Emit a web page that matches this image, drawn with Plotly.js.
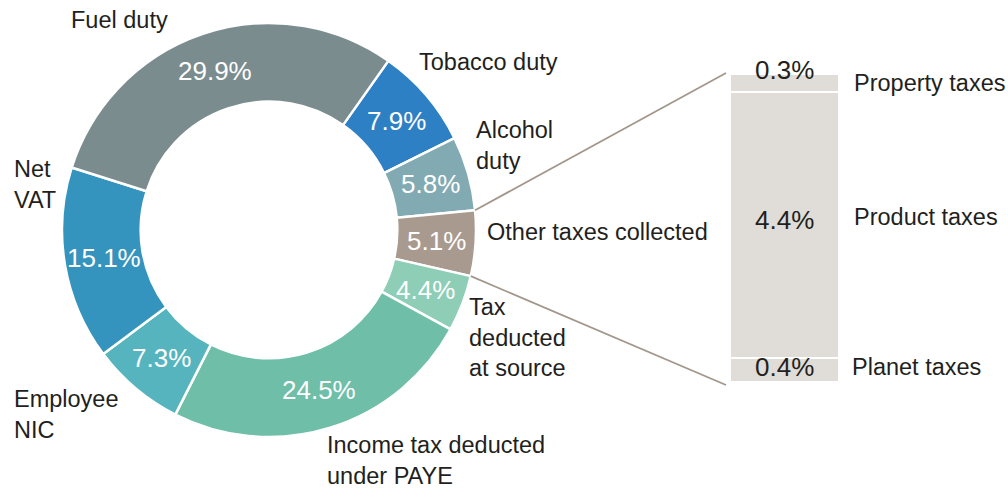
<!DOCTYPE html>
<html><head><meta charset="utf-8">
<script src="https://cdn.plot.ly/plotly-3.0.1.min.js"></script>
<style>html,body{margin:0;padding:0;background:#fff}</style>
</head><body><div id="chart" style="width:1008px;height:489px"></div>
<script>
// ---- data ----
const sliceLabels = ['Tobacco duty','Alcohol duty','Other taxes collected','Tax deducted at source','Income tax deducted under PAYE','Employee NIC','Net VAT','Fuel duty'];
const sliceText = ['Tobacco duty','Alcohol<br>duty','Other taxes collected','Tax<br>deducted<br>at source','Income tax deducted<br>under PAYE','Employee<br>NIC','Net<br>VAT','Fuel duty'];
const sliceValues = [7.9, 5.8, 5.1, 4.4, 24.5, 7.3, 15.1, 29.9];
const sliceColors = ['#2e80c4','#82aab3','#a89a8f','#8ecdb6','#6ebea8','#55b4bd','#3494bd','#7b8c8f'];
const otherLabels = ['Planet taxes','Product taxes','Property taxes'];
const otherValues = [0.4, 4.4, 0.3];

// ---- layout helpers ----
const W = 1008, H = 489;
const px = x => x / W, py = y => 1 - y / H;
const FONT = 'Liberation Sans, Arial, Helvetica, sans-serif';
const TXT = '#231f20';

const cxPx = 269, cyPx = 230, R = 207, HOLE = 0.62, ROT = 35.2;
const pieDomX = [px(cxPx - R), px(cxPx + R)];
const pieDomY = [py(cyPx + R), py(cyPx - R)];
const barDomX = [px(730), px(839)];
const barDomY = [py(382), py(74)];

const total = sliceValues.reduce((a, b) => a + b, 0);
const angStart = [];
let acc = 0;
sliceValues.forEach(v => { angStart.push(ROT + acc / total * 360); acc += v; });
const angOf = (i, f) => (angStart[i] + f * sliceValues[i] / total * 360) * Math.PI / 180;
const ptPaper = (a, r) => ({ x: px(cxPx + r * Math.sin(a)), y: py(cyPx - r * Math.cos(a)) });

const traces = [{
  type: 'pie', labels: sliceLabels, values: sliceValues, sort: false,
  direction: 'clockwise', rotation: ROT, hole: HOLE,
  marker: { colors: sliceColors, line: { color: '#ffffff', width: 2.5 } },
  textinfo: 'none', hoverinfo: 'label+percent', automargin: false,
  domain: { x: pieDomX, y: pieDomY }, showlegend: false
}];
otherLabels.forEach((l, i) => traces.push({
  type: 'bar', x: ['Other'], y: [otherValues[i]], name: l, width: 1,
  marker: { color: '#e0dcd8', line: { color: '#ffffff', width: 2.5 } },
  hoverinfo: 'name+y', showlegend: false, xaxis: 'x', yaxis: 'y'
}));

const annotations = [];
// percentages in slices
const midR = R * (1 + HOLE) / 2;
sliceValues.forEach((v, i) => {
  const p = ptPaper(angOf(i, 0.5), midR);
  annotations.push({ xref: 'paper', yref: 'paper', x: p.x, y: p.y, text: v.toFixed(1) + '%',
    showarrow: false, xanchor: 'center', yanchor: 'middle', font: { family: FONT, size: 26, color: '#ffffff' } });
});
// outside slice labels (left x, middle y in px)
const labelPos = [[417, 62], [474, 145], [485, 232], [467, 337], [325, 460], [12, 414], [12, 184], [69, 20]];
sliceText.forEach((t, i) => annotations.push({ xref: 'paper', yref: 'paper', x: px(labelPos[i][0]), y: py(labelPos[i][1]),
  text: t, showarrow: false, xanchor: 'left', yanchor: 'middle', align: 'left',
  font: { family: FONT, size: 23.5, color: TXT } }));
// bar value texts and side labels
const barShift = [3, 5, 13];
const sideY = [367, 217, 83];
let cum = 0;
otherValues.forEach((v, i) => {
  annotations.push({ xref: 'paper', yref: 'y', x: (barDomX[0] + barDomX[1]) / 2, y: cum + v / 2, yshift: barShift[i],
    text: v.toFixed(1) + '%', showarrow: false, xanchor: 'center', yanchor: 'middle',
    font: { family: FONT, size: 26, color: TXT } });
  annotations.push({ xref: 'paper', yref: 'paper', x: px(i === 0 ? 850 : 852), y: py(sideY[i]),
    text: otherLabels[i], showarrow: false, xanchor: 'left', yanchor: 'middle',
    font: { family: FONT, size: 23.5, color: TXT } });
  cum += v;
});

// connector lines from the "Other taxes" slice to the bar
const otherIdx = 2;
const pTop = ptPaper(angOf(otherIdx, 0), R);
const pBot = ptPaper(angOf(otherIdx, 1), R);
const barTotal = otherValues.reduce((a, b) => a + b, 0);
const shapes = [
  { type: 'line', xref: 'paper', yref: 'paper', x0: pTop.x, y0: pTop.y, x1: barDomX[0] - px(4), y1: py(73), line: { color: '#a3978b', width: 1.8 } },
  { type: 'line', xref: 'paper', yref: 'paper', x0: pBot.x, y0: pBot.y, x1: barDomX[0] - px(4), y1: py(385), line: { color: '#a3978b', width: 1.8 } }
];

const layout = {
  width: W, height: H, margin: { l: 0, r: 0, t: 0, b: 0 },
  paper_bgcolor: '#ffffff', plot_bgcolor: 'rgba(0,0,0,0)',
  barmode: 'stack', showlegend: false,
  xaxis: { domain: barDomX, range: [-0.5, 0.5], type: 'category', visible: false, fixedrange: true },
  yaxis: { domain: barDomY, range: [0, barTotal], visible: false, fixedrange: true },
  annotations: annotations, shapes: shapes,
  font: { family: FONT, color: TXT }
};
Plotly.newPlot('chart', traces, layout, { displayModeBar: false, staticPlot: true });
</script></body></html>
